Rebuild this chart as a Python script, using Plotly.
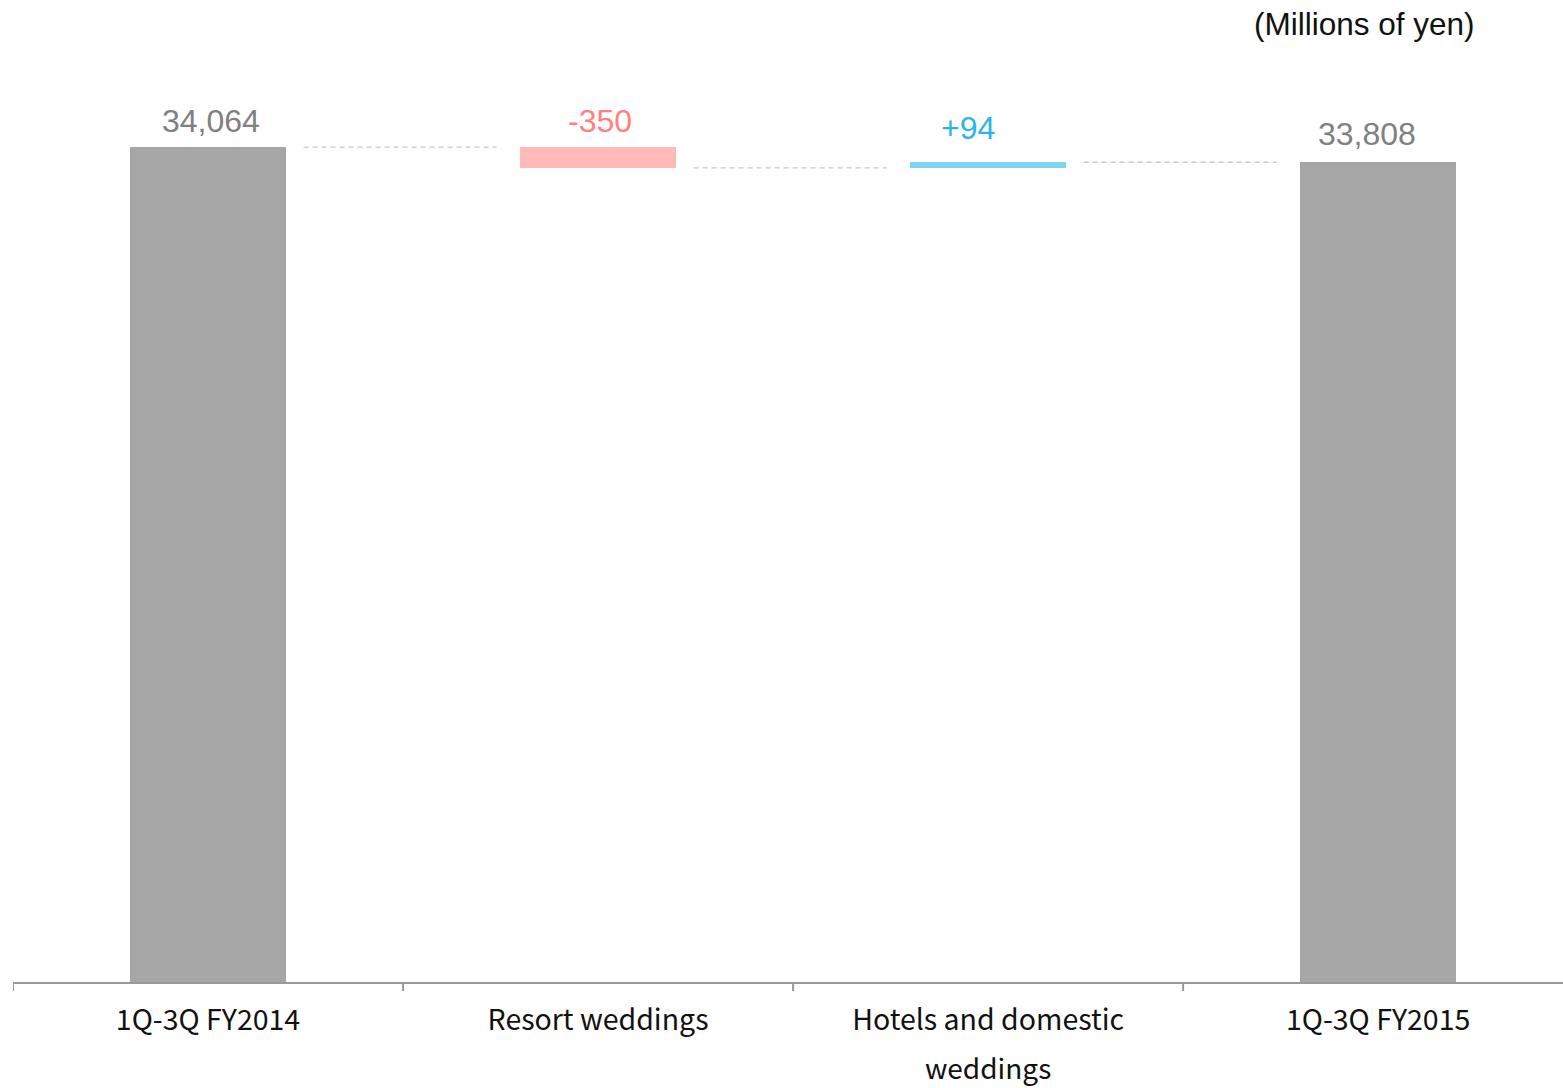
import plotly.graph_objects as go

# Net sales bridge, 1Q-3Q FY2014 -> 1Q-3Q FY2015 (millions of yen)
categories = ["1Q-3Q FY2014", "Resort weddings", "Hotels and domestic", "1Q-3Q FY2015"]
start_total = 34064
changes = [-350, 94]
end_total = 33808
value_labels = ["34,064", "-350", "+94", "33,808"]

# styling
GREY_BAR = "#A6A6A6"
RED_BAR = "#FFB9B9"
BLUE_BAR = "#7FD4EE"
GREY_TXT = "#808080"
RED_TXT = "#FF8080"
BLUE_TXT = "#2BB5E8"
AXIS_COL = "#999999"
AXIS_MIN = 20000
AXIS_MAX = 35530
BAR_W = 0.4
CAT_FONT = "Noto Sans CJK JP, Noto Sans, sans-serif"
NUM_FONT = "Liberation Sans, Arial, sans-serif"

# floating bar geometry derived from the data
bases, heights, colors, tops, label_colors = [], [], [], [], []
bases.append(0)
heights.append(start_total)
colors.append(GREY_BAR)
tops.append(start_total)
label_colors.append(GREY_TXT)
level = start_total
for d in changes:
    lo = min(level, level + d)
    bases.append(lo)
    heights.append(abs(d))
    colors.append(RED_BAR if d < 0 else BLUE_BAR)
    label_colors.append(RED_TXT if d < 0 else BLUE_TXT)
    level += d
    tops.append(lo + abs(d))
bases.append(0)
heights.append(end_total)
colors.append(GREY_BAR)
tops.append(end_total)
label_colors.append(GREY_TXT)

# running level after each column, used by the dashed connectors
levels = [start_total]
for d in changes:
    levels.append(levels[-1] + d)

fig = go.Figure()
fig.add_trace(go.Bar(
    x=[0, 1, 2, 3], y=heights, base=bases, width=BAR_W,
    marker=dict(color=colors, line=dict(width=0)),
    hoverinfo="skip", showlegend=False,
))

for i in range(3):
    fig.add_trace(go.Scatter(
        x=[i + 0.245, i + 0.74], y=[levels[i], levels[i]],
        mode="lines", line=dict(color="#C8C8C8", width=1.3, dash="5px,4px"),
        hoverinfo="skip", showlegend=False,
    ))

label_dx = [3, 2, -20, -11]
label_dy = [26, 26, 34, 28]
for i, txt in enumerate(value_labels):
    fig.add_annotation(
        x=i, y=tops[i], xref="x", yref="y", text=txt, showarrow=False,
        xanchor="center", yanchor="middle", xshift=label_dx[i], yshift=label_dy[i],
        font=dict(family=NUM_FONT, size=32, color=label_colors[i]),
    )

# second line of the third category label
fig.add_annotation(
    x=2, y=0, xref="x", yref="paper", text="weddings", showarrow=False,
    xanchor="center", yanchor="middle", yshift=-85,
    font=dict(family=CAT_FONT, size=28, color="#111111"),
)

fig.add_annotation(
    x=(1477 - 13) / 1550, y=(982 - 24) / 922, xref="paper", yref="paper",
    text="(Millions of yen)", showarrow=False, xanchor="right", yanchor="middle",
    font=dict(family=NUM_FONT, size=31.5, color="#111111"),
)

fig.update_layout(
    width=1563, height=1088,
    margin=dict(l=13, r=0, t=60, b=106),
    paper_bgcolor="white", plot_bgcolor="white",
    bargap=0,
    xaxis=dict(
        type="linear", range=[-0.5, 3.474],
        tickmode="array", tickvals=[0, 1, 2, 3], ticktext=categories,
        ticks="", ticklabelstandoff=12,
        showline=True, linecolor=AXIS_COL, linewidth=2,
        showgrid=False, zeroline=False,
        tickfont=dict(family=CAT_FONT, size=28.5, color="#111111"),
    ),
    yaxis=dict(range=[AXIS_MIN, AXIS_MAX], visible=False, showgrid=False, zeroline=False),
)

# tick marks on category boundaries
for b in [-0.5, 0.5, 1.5, 2.5]:
    fig.add_shape(type="line", xref="x", yref="paper", ysizemode="pixel", yanchor=0,
                  x0=b, x1=b, y0=0, y1=-9,
                  line=dict(color=AXIS_COL, width=2))

fig.write_html("out.html")
